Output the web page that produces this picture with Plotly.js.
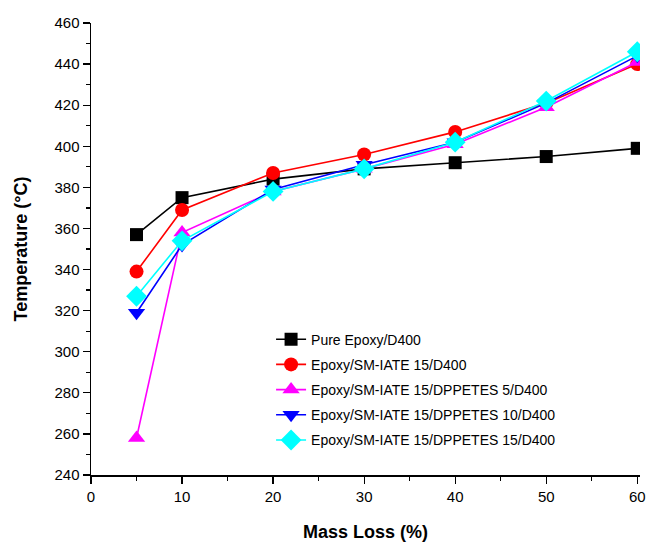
<!DOCTYPE html>
<html>
<head>
<meta charset="utf-8">
<script src="https://cdn.plot.ly/plotly-3.0.1.min.js"></script>
<style>html,body{margin:0;padding:0;background:#fff;}#chart{width:646px;height:543px;}</style>
</head>
<body>
<div id="chart"></div>
<script>
const massLoss = [5, 10, 20, 30, 40, 50, 60];
const pureEpoxy = [357, 375, 384, 389, 392, 395, 399];
const smIate15 = [339, 369, 387, 396, 407, 421, 440];
const dppetes5 = [258, 358, 378, 389, 401, 419, 441];
const dppetes10 = [319, 352, 379, 391, 402, 421, 444];
const dppetes15 = [327, 354, 378, 389, 402, 422, 446];
const seriesNames = [
  'Pure Epoxy/D400',
  'Epoxy/SM-IATE 15/D400',
  'Epoxy/SM-IATE 15/DPPETES 5/D400',
  'Epoxy/SM-IATE 15/DPPETES 10/D400',
  'Epoxy/SM-IATE 15/DPPETES 15/D400'
];
const seriesData = [pureEpoxy, smIate15, dppetes5, dppetes10, dppetes15];
const colors = ['#000000', '#ff0000', '#ff00ff', '#0000ff', '#00ffff'];
const symbols = ['square', 'circle', 'triangle-up', 'triangle-down', 'diamond'];
const sizes = [13, 14, 15, 15, 16];

const traces = seriesData.map((ys, i) => ({
  x: massLoss, y: ys, type: 'scatter', mode: 'lines+markers', name: seriesNames[i],
  legendgroup: 'g' + i,
  line: {color: colors[i], width: 1.6},
  marker: {color: colors[i], symbol: symbols[i], size: sizes[i]}
}));

const layout = {
  width: 646, height: 543,
  margin: {l: 91, r: 6, t: 23, b: 68},
  paper_bgcolor: '#fff', plot_bgcolor: '#fff',
  font: {family: 'Liberation Sans, Arial, sans-serif', color: '#000'},
  showlegend: true,
  legend: {
    x: 0.328, y: 0.335, xanchor: 'left', yanchor: 'top',
    font: {size: 14, color: '#000'}, bgcolor: 'rgba(0,0,0,0)', tracegroupgap: 4
  },
  xaxis: {
    range: [0, 60.3], showgrid: false, zeroline: false,
    showline: true, linecolor: '#000', linewidth: 1.5,
    ticks: 'outside', tickcolor: '#000', ticklen: 7, tickwidth: 1.2,
    tick0: 0, dtick: 10, tickfont: {size: 15},
    minor: {ticks: 'outside', ticklen: 4, tickcolor: '#000', dtick: 5, tick0: 0},
    title: {text: '<b>Mass Loss (%)</b>', font: {size: 18}, standoff: 22}
  },
  yaxis: {
    range: [240, 460], showgrid: false, zeroline: false,
    showline: true, linecolor: '#000', linewidth: 1.5,
    ticks: 'outside', tickcolor: '#000', ticklen: 7, tickwidth: 1.2,
    tick0: 240, dtick: 20, tickfont: {size: 15},
    minor: {ticks: 'outside', ticklen: 4, tickcolor: '#000', dtick: 10, tick0: 240},
    title: {text: '<b>Temperature (°C)</b>', font: {size: 18}, standoff: 22}
  }
};

Plotly.newPlot('chart', traces, layout, {displayModeBar: false, staticPlot: true});
</script>
</body>
</html>
